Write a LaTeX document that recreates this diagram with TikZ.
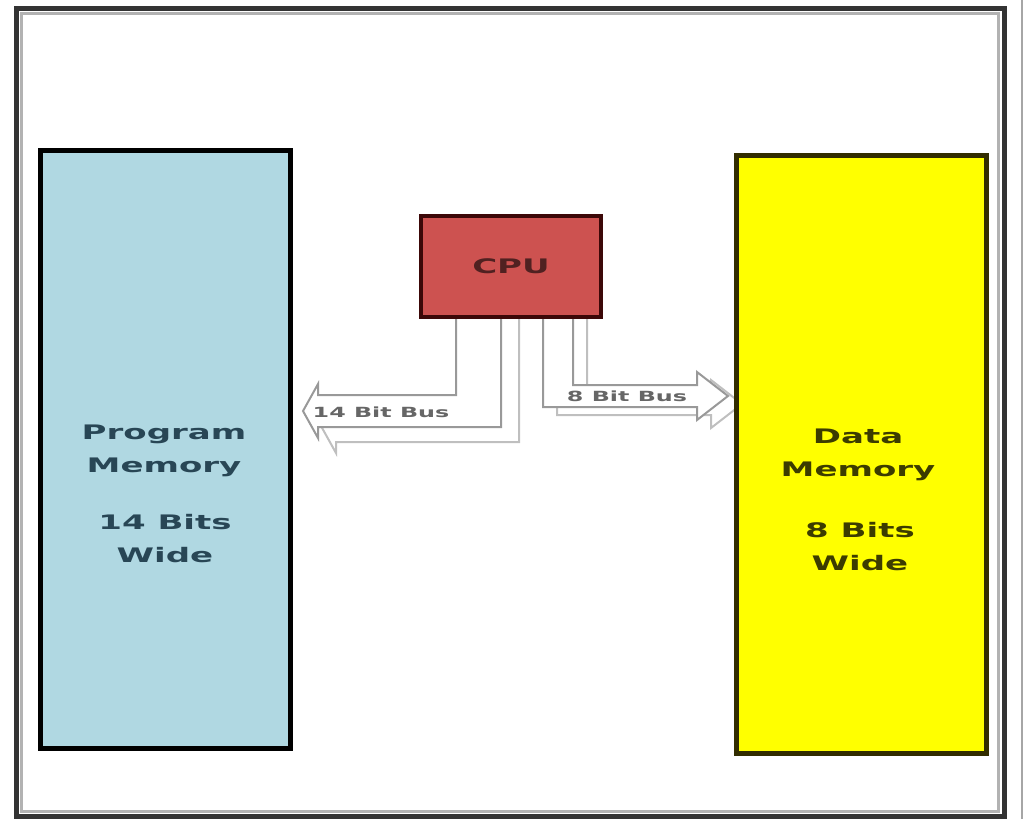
\documentclass[tikz,border=0pt]{standalone}
\usepackage{fontspec}
\usepackage{tikz}
\usetikzlibrary{backgrounds}
\newfontfamily\diagfont{DejaVu Sans}[FakeStretch=1.7]
\definecolor{progblue}{RGB}{176,216,226}
\definecolor{datayellow}{RGB}{255,255,0}
\definecolor{dataedge}{RGB}{50,45,0}
\definecolor{cpured}{RGB}{205,82,80}
\definecolor{cpuedge}{RGB}{60,8,8}
\definecolor{progtext}{RGB}{40,70,85}
\definecolor{datatext}{RGB}{60,60,0}

\begin{document}
\begin{tikzpicture}[x=1pt,y=-1pt,
  mem/.style={draw=black,line width=5pt,minimum width=250pt,minimum height=598pt,inner sep=0pt},
  memtext/.style={font=\diagfont\bfseries\fontsize{20}{33}\selectfont,align=center},
  bus/.style={draw=black!40,line width=2pt,fill=white,line join=miter},
  busshadow/.style={draw=black!25,line width=2pt},
  buslabel/.style={font=\diagfont\bfseries\fontsize{14}{16}\selectfont,text=black!60}]
\useasboundingbox (0,0) rectangle (1024,819);
% frame
\draw[black!80,line width=5pt] (16,8) rectangle (1004,816);
\draw[black!30,line width=3pt] (21,13) rectangle (998,811);
\draw[black!35,line width=2pt] (1022,0) -- (1022,819);
% memories and cpu
\node[mem,fill=progblue] (pmem) at (165,449) {};
\node[mem,fill=datayellow,draw=dataedge] (dmem) at (861,454) {};
\node[draw=cpuedge,fill=cpured,line width=4pt,minimum width=180pt,minimum height=101pt] (cpu) at (511,266)
  {\diagfont\bfseries\fontsize{20}{24}\selectfont\textcolor{cpuedge!90}{CPU}};
\node[memtext,text=progtext] (ptop) at (164,451) {Program\\Memory};
\node[memtext,text=progtext] (pbot) at (165,539) {14 Bits\\Wide};
\node[memtext,text=datatext] (dtop) at (858,455) {Data\\Memory};
\node[memtext,text=datatext] (dbot) at (860,547) {8 Bits\\Wide};
% buses
\begin{scope}[on background layer]
\draw[busshadow,shift={(18,15)}] (456,302) -- (456,395) -- (318,395) -- (318,384) -- (303,411) -- (318,438) -- (318,427) -- (501,427) -- (501,302);
\draw[bus] (456,317) -- (456,395) -- (318,395) -- (318,384) -- (303,411) -- (318,438) -- (318,427) -- (501,427) -- (501,317);
\draw[busshadow,shift={(14,8)}] (543,309) -- (543,407) -- (697,407) -- (697,420) -- (728,396) -- (697,372) -- (697,385) -- (573,385) -- (573,309);
\draw[bus] (543,317) -- (543,407) -- (697,407) -- (697,420) -- (728,396) -- (697,372) -- (697,385) -- (573,385) -- (573,317);
\end{scope}
\node[buslabel] (pbus) at (381,412) {14 Bit Bus};
\node[buslabel] (dbus) at (627,396) {8 Bit Bus};
\end{tikzpicture}
\end{document}
